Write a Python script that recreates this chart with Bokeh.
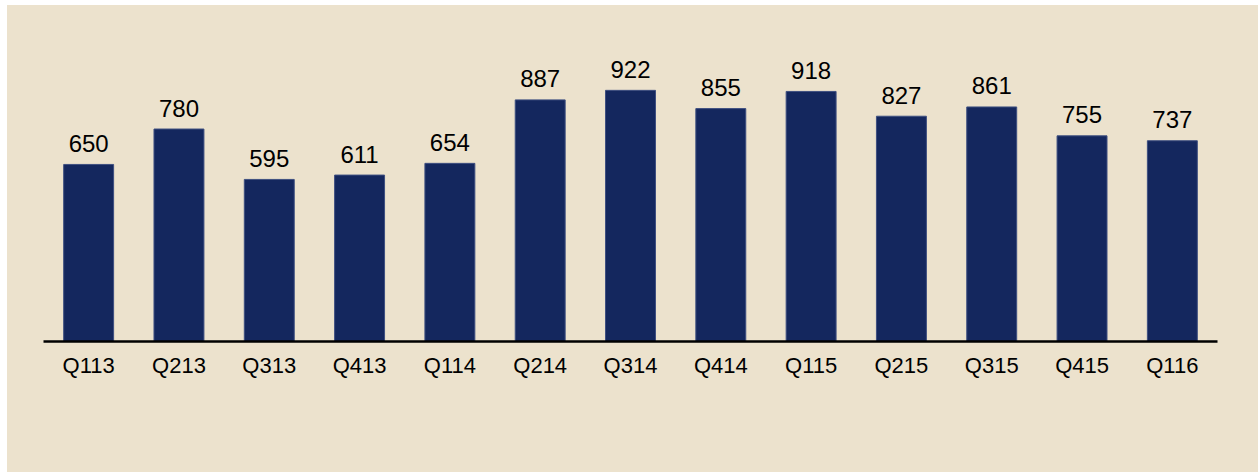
from bokeh.plotting import figure
from bokeh.models import ColumnDataSource, Range1d, FactorRange
from bokeh.core.properties import value
from bokeh.embed import file_html
from bokeh.resources import INLINE

quarters = ["Q113", "Q213", "Q313", "Q413", "Q114", "Q214", "Q314",
            "Q414", "Q115", "Q215", "Q315", "Q415", "Q116"]
values = [650, 780, 595, 611, 654, 887, 922, 855, 918, 827, 861, 755, 737]
labels = [str(v) for v in values]

src = ColumnDataSource(dict(q=quarters, v=values, lab=labels))

BG = "#ECE2CD"
p = figure(width=1251, height=467, output_backend="svg", toolbar_location=None,
           x_range=FactorRange(factors=quarters, range_padding=0),
           y_range=Range1d(0, 1105),
           min_border_left=36, min_border_right=41, min_border_top=35,
           min_border_bottom=131,
           background_fill_color=BG, border_fill_color=BG)
p.margin = (5, 0, 0, 7)
p.styles = {"background-color": BG}
p.outline_line_color = None
p.xgrid.visible = False
p.ygrid.visible = False
p.yaxis.visible = False

p.vbar(x="q", top="v", width=0.553, source=src, fill_color="#14275E",
       line_color="#3E4F80", line_width=1)

p.text(x="q", y="v", text="lab", source=src, text_align="center",
       text_baseline="alphabetic", y_offset=-21,
       text_font=value("Liberation Sans"), text_font_size="24px",
       text_color="#000000")

ax = p.xaxis[0]
ax.axis_line_color = "#000000"
ax.axis_line_width = 2.5
ax.major_tick_line_color = None
ax.minor_tick_line_color = None
ax.major_label_standoff = 5
ax.major_label_text_font = "Liberation Sans"
ax.major_label_text_font_size = "22px"
ax.major_label_text_color = "#000000"

open("out.html", "w").write(file_html(p, INLINE))
